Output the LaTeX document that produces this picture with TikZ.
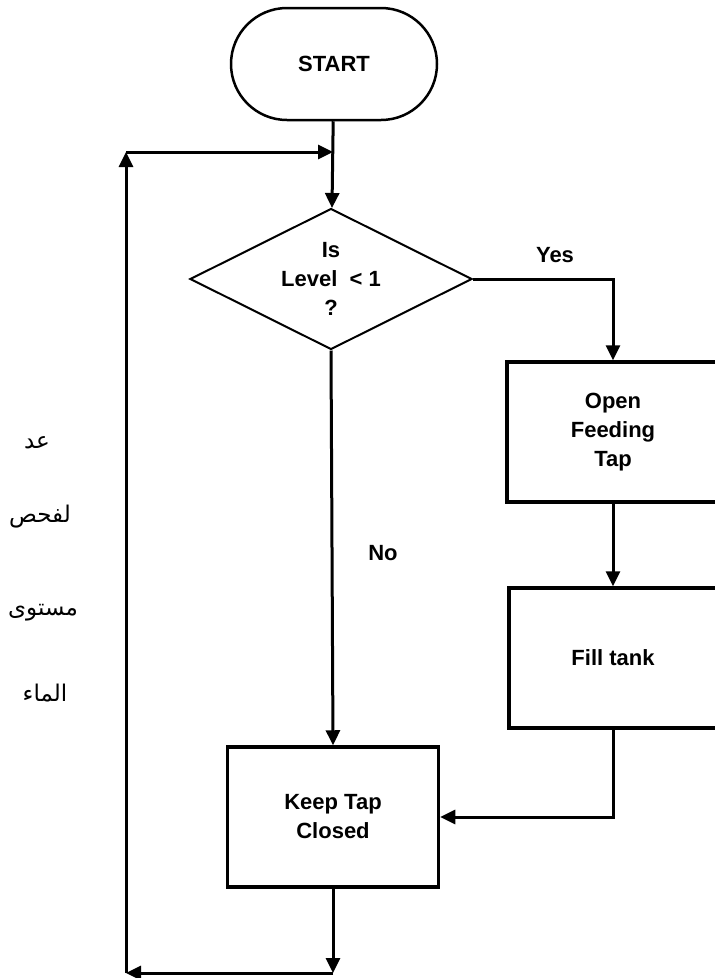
\documentclass[tikz,border=0pt]{standalone}
\usepackage{fontspec}
\setmainfont{Liberation Sans}
\newfontfamily\arabicfont[Script=Arabic]{DejaVu Sans}
\TeXXeTstate=1
\usetikzlibrary{shapes.geometric,shapes.misc,arrows.meta}
\begin{document}
\begin{tikzpicture}[x=1pt,y=-1pt,
  every node/.style={font=\fontsize{22}{29}\selectfont\bfseries, align=center},
  arr/.style={line width=3pt,-{Triangle[length=15pt,width=14pt]}},
  procbox/.style={draw,line width=3.5pt,rectangle,inner sep=0pt},
  lab/.style={font=\fontsize{22}{29}\selectfont\bfseries},
  arlab/.style={font=\arabicfont\fontsize{23}{26}\selectfont}
]
\useasboundingbox (0,0) rectangle (715,978);
\clip (0,0) rectangle (715,978);

\node[draw,rounded rectangle,line width=2.5pt,minimum width=206pt,minimum height=112pt,inner sep=0pt] (start) at (334,64) {START};
\node[draw,diamond,line width=2pt,minimum width=282pt,minimum height=141pt,inner sep=0pt] (dia) at (331,279) {};
\node (diatext) at (331,279) {Is\\Level\ \ < 1\\?};
\node[procbox,minimum width=212pt,minimum height=140pt] (open) at (613,432) {Open\\Feeding\\Tap};
\node[procbox,minimum width=208pt,minimum height=140pt] (fill) at (613,658) {Fill tank};
\node[procbox,minimum width=211pt,minimum height=140pt] (keep) at (333,817) {Keep Tap\\ Closed};

\node[lab] (yes) at (555,255) {Yes};
\node[lab] (no) at (383,553) {No};

\node[arlab] (a1) at (37,443) {\beginR عد\endR};
\node[arlab] (a2) at (40,517) {\beginR لفحص\endR};
\node[arlab] (a3) at (43,613) {\beginR مستوى\endR};
\node[arlab] (a4) at (45,693) {\beginR الماء\endR};

\coordinate (c1) at (333,973);
\coordinate (c2) at (126,973);
\coordinate (c3) at (126,152);
\coordinate (c4) at (333,152);

\draw[arr] (start) -- (dia);
\draw[arr] (dia.east) -| (open.north);
\draw[arr] (open) -- (fill);
\draw[arr] (fill.south) |- (keep.east);
\draw[arr] (dia.south) -- (keep.north);
\draw[arr] (keep.south) -- (c1);
\draw[arr] (c1) -- (c2);
\draw[arr] (c2) -- (c3);
\draw[arr] (c3) -- (c4);
\end{tikzpicture}
\end{document}
